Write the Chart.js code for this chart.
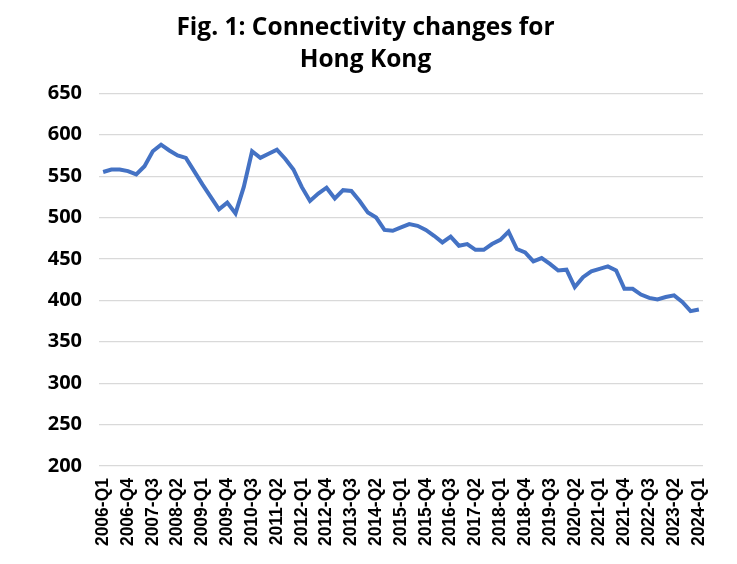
<!DOCTYPE html>
<html>
<head>
<meta charset="utf-8">
<script src="https://cdn.jsdelivr.net/npm/chart.js@4"></script>
<style>
  html, body { margin: 0; padding: 0; background: #ffffff; }
  #wrap { width: 737px; height: 564px; }
</style>
</head>
<body>
<div id="wrap"><canvas id="c" width="737" height="564"></canvas></div>
<script>
const titleLines = ["Fig. 1: Connectivity changes for", "Hong Kong"];
const firstYear = 2006;
const lastYear = 2024;
const quarters = [];
for (let y = firstYear; y <= lastYear; y++) {
  for (let q = 1; q <= 4; q++) {
    if (y === lastYear && q > 1) break;
    quarters.push(y + "-Q" + q);
  }
}
const connectivity = [
  555, 558, 558, 556, 552, 562, 580, 588, 581, 575,
  572, 556, 540, 525, 510, 518, 505, 537, 580, 572,
  577, 582, 571, 558, 537, 520, 529, 536, 523, 533,
  532, 520, 506, 500, 485, 484, 488, 492, 490, 485,
  478, 470, 477, 466, 468, 461, 461, 468, 473, 483,
  462, 458, 447, 451, 444, 436, 437, 416, 428, 435,
  438, 441, 436, 414, 414, 407, 403, 401, 404, 406,
  398, 387, 389
];
const yMin = 200, yMax = 650, yStep = 50;
const labelEvery = 3;

new Chart(document.getElementById('c'), {
  type: 'line',
  data: {
    labels: quarters,
    datasets: [{
      data: connectivity,
      borderColor: '#4472C4',
      borderWidth: 4,
      pointRadius: 0,
      tension: 0,
      fill: false
    }]
  },
  options: {
    responsive: false,
    animation: false,
    layout: { padding: { left: 28, right: 34, top: 0, bottom: 0 } },
    plugins: {
      legend: { display: false },
      tooltip: { enabled: false },
      title: {
        display: true,
        text: titleLines,
        color: '#000000',
        font: { family: 'Open Sans', size: 24.5, weight: 'bold', lineHeight: 1.3 },
        padding: { top: 12, bottom: 17.6 }
      }
    },
    scales: {
      x: {
        offset: true,
        grid: { display: false, drawTicks: false },
        border: { display: false },
        ticks: {
          autoSkip: false,
          maxRotation: 90,
          minRotation: 90,
          padding: 12,
          color: '#000000',
          font: { family: 'Liberation Sans', size: 17.5, weight: 'bold' },
          callback: function(v, i) { return i % labelEvery === 0 ? quarters[i] : ''; }
        },
        afterFit: function(s) { s.height = 98; }
      },
      y: {
        min: yMin,
        max: yMax,
        grid: { color: '#d9d9d9', lineWidth: 1.2, drawTicks: false },
        border: { display: false },
        ticks: {
          stepSize: yStep,
          padding: 17,
          color: '#000000',
          font: { family: 'Open Sans', size: 20, weight: 'bold' }
        },
        afterFit: function(s) { s.width = 71; }
      }
    }
  }
});
</script>
</body>
</html>
